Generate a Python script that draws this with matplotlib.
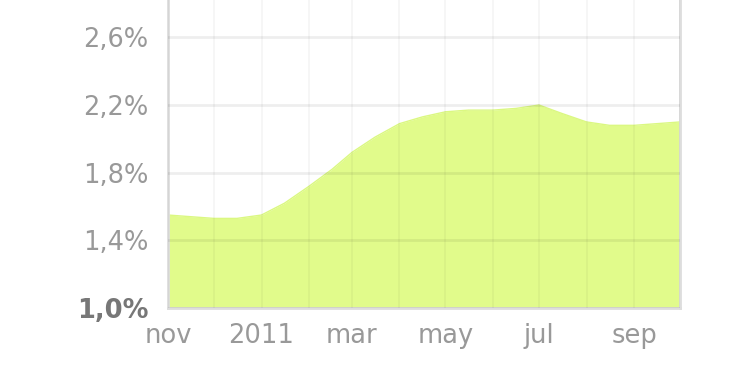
import numpy as np
import pandas as pd
import matplotlib
matplotlib.use('Agg')
import matplotlib.pyplot as plt
import matplotlib.dates as mdates

# rate, twice a month
dates = ['2010-11-01', '2010-11-16', '2010-12-01', '2010-12-16', '2011-01-01', '2011-01-16',
         '2011-02-01', '2011-02-16', '2011-03-01', '2011-03-16', '2011-04-01', '2011-04-16',
         '2011-05-01', '2011-05-16', '2011-06-01', '2011-06-16', '2011-07-01', '2011-07-16',
         '2011-08-01', '2011-08-16', '2011-09-01', '2011-09-16', '2011-10-01']
rate = [1.55, 1.54, 1.53, 1.53, 1.55, 1.62,
        1.72, 1.82, 1.92, 2.01, 2.09, 2.13,
        2.16, 2.17, 2.17, 2.18, 2.20, 2.15,
        2.10, 2.08, 2.08, 2.09, 2.10]

tick_dates = ['2010-11-01', '2011-01-01', '2011-03-01', '2011-05-01', '2011-07-01', '2011-09-01']
tick_labels = ['nov', '2011', 'mar', 'may', 'jul', 'sep']
yticks = [1.0, 1.4, 1.8, 2.2, 2.6]
ytick_labels = ['1,0%', '1,4%', '1,8%', '2,2%', '2,6%']

x = pd.to_datetime(dates)

fig = plt.figure(figsize=(7.4, 3.89), dpi=100)
ax = fig.add_axes([0.227, 0.208, 0.692, 0.87])

ax.fill_between(x, 1.0, rate, color='#e1fb8b', lw=0, zorder=1)
ax.plot(x, rate, color='#dbf882', lw=1.0, zorder=2)

ax.set_xlim(pd.Timestamp('2010-11-01'), pd.Timestamp('2011-10-01'))
ax.set_ylim(1.0, 3.0)

ax.xaxis.set_minor_locator(mdates.MonthLocator())
ax.set_xticks(pd.to_datetime(tick_dates))
ax.set_xticklabels(tick_labels)
ax.set_yticks(yticks)
ax.set_yticklabels(ytick_labels)

ax.grid(True, axis='y', which='major', color='black', alpha=0.065, lw=2, zorder=3)
ax.grid(True, axis='x', which='both', color='black', alpha=0.035, lw=1.5, zorder=3)
ax.set_axisbelow(False)

ax.tick_params(axis='both', which='both', length=0, labelsize=18.5, labelcolor='#999999')
ax.tick_params(axis='x', pad=11)
ax.tick_params(axis='y', pad=14)
lab0 = ax.get_yticklabels()[0]
lab0.set_fontweight('bold')
lab0.set_color('#777777')

for side in ['left', 'bottom', 'right']:
    ax.spines[side].set_color('#dddddd')
    ax.spines[side].set_linewidth(2)
ax.spines['top'].set_visible(False)

fig.savefig('out.png', dpi=100)
